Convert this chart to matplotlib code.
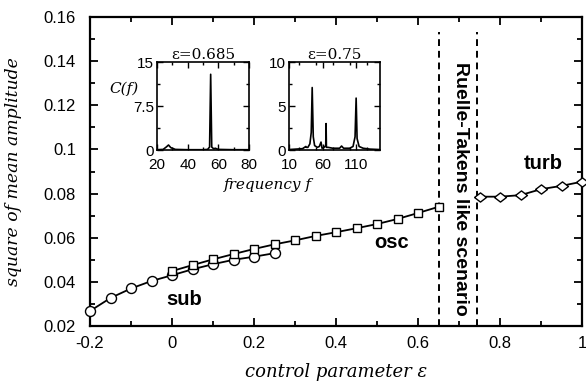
import matplotlib
matplotlib.use("Agg")
import matplotlib.pyplot as plt
from matplotlib.ticker import MultipleLocator, FixedLocator

# ---- data ----
eps_sub = [-0.2, -0.15, -0.1, -0.05, 0.0, 0.05, 0.1, 0.15, 0.2, 0.25]
amp_sub = [0.0268, 0.0327, 0.0370, 0.0404, 0.0430, 0.0457, 0.0480, 0.0500, 0.0514, 0.0530]

eps_osc = [0.0, 0.05, 0.1, 0.15, 0.2, 0.25, 0.3, 0.35, 0.4, 0.45, 0.5, 0.55, 0.6, 0.65]
amp_osc = [0.0449, 0.0476, 0.0502, 0.0526, 0.0549, 0.0570, 0.0588, 0.0608, 0.0625,
           0.0643, 0.0662, 0.0685, 0.0712, 0.0740]

eps_turb = [0.75, 0.8, 0.85, 0.9, 0.95, 1.0]
amp_turb = [0.0786, 0.0786, 0.0793, 0.0820, 0.0835, 0.0854]

rt_bounds = [0.65, 0.745]

f1 = [20, 24, 26, 27.5, 29, 32, 40, 50, 53, 54.3, 55, 55.7, 57, 58, 60, 70, 80]
c1 = [0.05, 0.1, 0.5, 0.85, 0.4, 0.1, 0.05, 0.05, 0.1, 0.5, 12.9, 0.5, 0.2, 0.3, 0.1, 0.05, 0.05]

f2 = [10, 20, 30, 35, 36, 38, 41, 43, 44.4, 46, 48, 52, 55, 57.5, 59, 62, 64.5, 65, 65.5,
      68, 75, 85, 88, 91, 100, 105, 108, 109.6, 111, 114, 120, 130, 145]
c2 = [0.05, 0.1, 0.15, 0.4, 0.3, 0.3, 0.7, 2.0, 7.1, 1.5, 0.5, 0.3, 0.4, 0.9, 0.2, 0.3, 0.5,
      3.0, 0.3, 0.3, 0.2, 0.2, 0.45, 0.2, 0.2, 0.4, 1.5, 5.9, 1.3, 0.4, 0.2, 0.1, 0.05]

x_ticks = [-0.2, 0, 0.2, 0.4, 0.6, 0.8, 1]
x_ticklabels = ["-0.2", "0", "0.2", "0.4", "0.6", "0.8", "1"]
y_ticks = [0.02, 0.04, 0.06, 0.08, 0.1, 0.12, 0.14, 0.16]
y_ticklabels = ["0.02", "0.04", "0.06", "0.08", "0.1", "0.12", "0.14", "0.16"]

SANS = "Liberation Sans"
SERIF = "DejaVu Serif"

fig = plt.figure(figsize=(5.86, 3.85), dpi=100)
ax = fig.add_axes([0.1536, 0.1532, 0.9932 - 0.1536, 0.9558 - 0.1532])

wide_diamond = [(-1.3, 0), (0, 1), (1.3, 0), (0, -1), (-1.3, 0)]

lw = 1.3
ax.plot(eps_sub, amp_sub, "-", color="black", lw=lw, marker="o", ms=7.2,
        mfc="white", mec="black", mew=1.0, zorder=3, clip_on=False)
ax.plot(eps_osc, amp_osc, "-", color="black", lw=lw, marker="s", ms=6.0,
        mfc="white", mec="black", mew=1.0, zorder=4)
ax.plot(eps_turb, amp_turb, "-", color="black", lw=lw, marker=wide_diamond, ms=8.6,
        mfc="white", mec="black", mew=1.0, zorder=4, clip_on=False)

for xb in rt_bounds:
    ax.plot([xb, xb], [0.02, 0.153], ls=(0, (3.5, 2.5)), color="black", lw=1.4, zorder=2)

ax.set_xlim(-0.2, 1.0)
ax.set_ylim(0.02, 0.16)
ax.xaxis.set_major_locator(FixedLocator(x_ticks))
ax.set_xticklabels(x_ticklabels)
ax.xaxis.set_minor_locator(MultipleLocator(0.1))
ax.yaxis.set_major_locator(FixedLocator(y_ticks))
ax.set_yticklabels(y_ticklabels)
ax.yaxis.set_minor_locator(MultipleLocator(0.01))
ax.tick_params(which="both", direction="in", top=True, right=True, width=1.3)
ax.tick_params(which="major", length=6, labelsize=12)
ax.tick_params(axis="x", which="major", pad=7)
ax.tick_params(axis="y", which="major", pad=10)
ax.tick_params(which="minor", length=3.5)
for lab in ax.get_xticklabels() + ax.get_yticklabels():
    lab.set_fontfamily(SANS)
for s in ax.spines.values():
    s.set_linewidth(1.6)

ax.set_xlabel("control parameter ε", fontfamily=SERIF, style="italic", fontsize=13, labelpad=9)
ax.set_ylabel("square of mean amplitude", fontfamily=SERIF, style="italic", fontsize=12.4)
ax.yaxis.set_label_coords(-0.138, 0.5)

ax.text(0.030, 0.0318, "sub", fontfamily=SANS, fontweight="bold", fontsize=14.5, ha="center", va="center")
ax.text(0.535, 0.058, "osc", fontfamily=SANS, fontweight="bold", fontsize=14.5, ha="center", va="center")
ax.text(0.905, 0.0936, "turb", fontfamily=SANS, fontweight="bold", fontsize=14.5, ha="center", va="center")
ax.text(0.703, 0.0823, "Ruelle-Takens like scenario", fontfamily=SANS, fontweight="bold",
        fontsize=14, rotation=-90, ha="center", va="center")

# ---- insets ----
in1 = fig.add_axes([157 / 586, (385 - 150) / 385, 92 / 586, 88 / 385])
in1.plot(f1, c1, color="black", lw=1.2)
in1.set_xlim(20, 80)
in1.set_ylim(0, 15)
in1.set_xticks([20, 40, 60, 80])
in1.set_xticklabels(["20", "40", "60", "80"])
in1.xaxis.set_minor_locator(MultipleLocator(10))
in1.set_yticks([0, 7.5, 15])
in1.set_yticklabels(["0", "7.5", "15"])
in1.yaxis.set_minor_locator(MultipleLocator(3.75))
in1.set_title("ε=0.685", fontfamily=SERIF, fontsize=11, pad=2)
in1.text(-0.36, 0.70, "C(f)", transform=in1.transAxes, fontfamily=SERIF, style="italic",
         fontsize=11, ha="center", va="center")

in2 = fig.add_axes([289 / 586, (385 - 150) / 385, 91 / 586, 88 / 385])
in2.plot(f2, c2, color="black", lw=1.2)
in2.set_xlim(10, 145)
in2.set_ylim(0, 10)
in2.set_xticks([10, 60, 110])
in2.set_xticklabels(["10", "60", "110"])
in2.xaxis.set_minor_locator(MultipleLocator(25))
in2.set_yticks([0, 5, 10])
in2.set_yticklabels(["0", "5", "10"])
in2.yaxis.set_minor_locator(MultipleLocator(2.5))
in2.set_title("ε=0.75", fontfamily=SERIF, fontsize=11, pad=2)

for a in (in1, in2):
    a.tick_params(which="both", direction="in", top=True, right=True, width=1.0)
    a.tick_params(which="major", length=4, labelsize=11)
    a.tick_params(axis="x", which="major", pad=5.5)
    a.tick_params(axis="y", which="major", pad=2)
    a.tick_params(which="minor", length=2.5)
    for lab in a.get_xticklabels() + a.get_yticklabels():
        lab.set_fontfamily(SANS)
    for s in a.spines.values():
        s.set_linewidth(1.2)

fig.text(268 / 586, 1 - 185 / 385, "frequency f", fontfamily=SERIF, style="italic",
         fontsize=11, ha="center", va="center")

fig.savefig("out.png", dpi=100)
